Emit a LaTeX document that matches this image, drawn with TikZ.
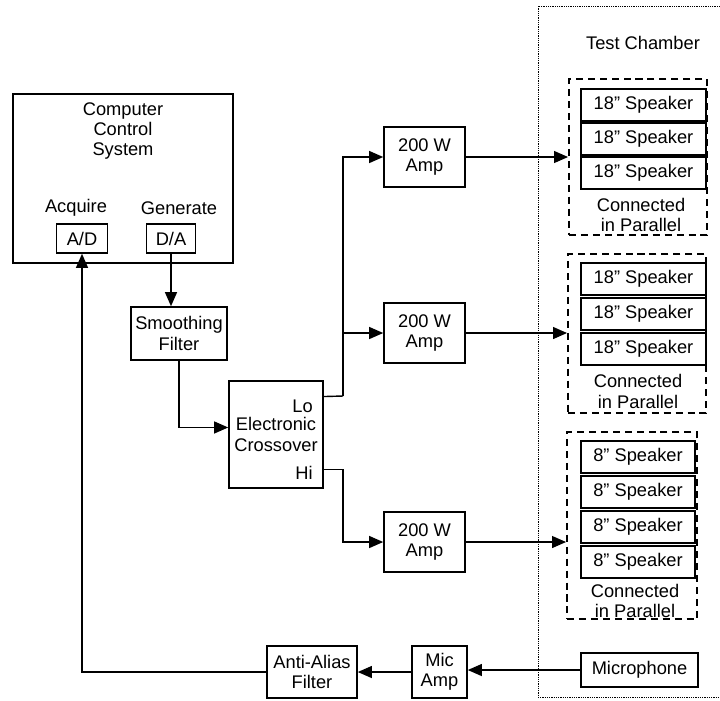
\documentclass[tikz,border=0pt]{standalone}
\usepackage{fontspec}
\setmainfont{Liberation Sans}
\usetikzlibrary{arrows.meta}

\tikzset{
  blk/.style={draw, line width=1.1pt, align=center, inner sep=1pt},
  amp/.style={blk, minimum width=2.025cm, minimum height=1.5cm},
  spk/.style={draw, line width=1.1pt, minimum height=0.8cm, inner sep=0pt},
  grp/.style={draw, line width=1.3pt, dash pattern=on 5pt off 3.5pt, inner sep=0pt},
  lbl/.style={align=center, inner sep=0pt},
  wire/.style={line width=1pt},
}

\begin{document}
\begin{tikzpicture}[x=0.025cm, y=-0.025cm, >={Triangle[length=10pt,width=8.5pt]},
  font=\fontsize{13}{14.5}\selectfont]
\useasboundingbox (0,0) rectangle (720,700);

% test chamber
\draw[line width=0.7pt, dash pattern=on 0.8pt off 0.8pt] (720,6) -- (538,6) -- (538,697) -- (720,697);
\node[lbl] (chamber) at (643,43) {Test Chamber};

% computer
\node[blk, minimum width=5.5cm, minimum height=4.225cm] (comp) at (123,178.5) {};
\node[lbl] (comptext) at (123,131) {Computer\\Control\\System};
\node[lbl] (acq) at (76,208) {Acquire};
\node[lbl] (gen) at (179,208) {Generate};
\node[blk, minimum width=1.275cm, minimum height=0.725cm] (ad) at (82,238.5) {A/D};
\node[blk, minimum width=1.225cm, minimum height=0.725cm] (da) at (171,238.5) {D/A};

\node[blk, minimum width=2.4cm, minimum height=1.325cm] (smooth) at (179,333.5) {Smoothing\\Filter};

% crossover
\node[blk, minimum width=2.35cm, minimum height=2.675cm] (xover) at (276,434.5) {Electronic\\Crossover};
\node[lbl, anchor=east] (lotext) at (313,406) {Lo};
\node[lbl, anchor=east] (hitext) at (313,473) {Hi};

% amps
\node[amp] (amp1) at (424.5,157) {200 W\\Amp};
\node[amp] (amp2) at (424.5,333) {200 W\\Amp};
\node[amp] (amp3) at (424.5,542) {200 W\\Amp};

% speaker groups
\node[grp, minimum width=3.45cm, minimum height=3.9cm] (grp1) at (638,157) {};
\node[grp, minimum width=3.45cm, minimum height=3.975cm] (grp2) at (637,333.5) {};
\node[grp, minimum width=3.25cm, minimum height=4.675cm] (grp3) at (632,525.5) {};
\foreach \y [count=\i] in {105,139,173}
  \node[spk, minimum width=3.125cm] (spa\i) at (643.5,\y) {18" Speaker};
\foreach \y [count=\i] in {279,314,349}
  \node[spk, minimum width=3.125cm] (spb\i) at (643.5,\y) {18" Speaker};
\foreach \y [count=\i] in {457,492,527,562}
  \node[spk, minimum width=2.85cm] (spc\i) at (638,\y) {8" Speaker};
\node[lbl] (para1) at (641,215) {Connected\\in Parallel};
\node[lbl] (para2) at (638,391.5) {Connected\\in Parallel};
\node[lbl] (para3) at (635,601) {Connected\\in Parallel};

% feedback path
\node[blk, minimum width=2.925cm, minimum height=0.85cm] (mic) at (639.5,670) {Microphone};
\node[blk, minimum width=1.375cm, minimum height=1.3cm] (micamp) at (439.5,672) {Mic\\Amp};
\node[blk, minimum width=2.25cm, minimum height=1.3cm] (alias) at (312,672) {Anti-Alias\\Filter};

\coordinate (lo) at ([yshift=27pt]xover.east);
\coordinate (hi) at ([yshift=-25pt]xover.east);
\coordinate (split) at (343,396);

\draw[wire,->] (da.south) -- (da.south |- smooth.north);
\draw[wire,->] (smooth.south) |- ([yshift=5pt]xover.west);
\draw[wire] (lo) -- (split);
\draw[wire,->] (split) |- (amp1.west);
\draw[wire,->] (split) |- (amp2.west);
\draw[wire,->] (hi) -- (hi -| split) |- (amp3.west);
\draw[wire,->] (amp1.east) -- (amp1.east -| grp1.west);
\draw[wire,->] (amp2.east) -- (amp2.east -| grp2.west);
\draw[wire,->] (amp3.east) -- (amp3.east -| grp3.west);
\draw[wire,->] (mic.west) -- (mic.west -| micamp.east);
\draw[wire,->] (micamp.west) -- (alias.east);
\draw[wire,->] (alias.west) -| (ad.south);
\end{tikzpicture}
\end{document}
